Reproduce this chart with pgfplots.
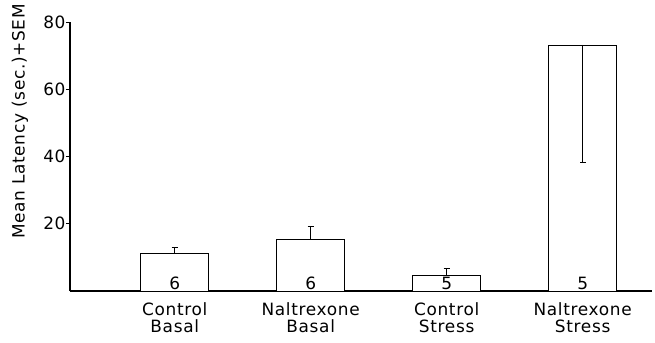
\documentclass[border=0pt]{standalone}
\usepackage{pgfplots}
\pgfplotsset{compat=1.18}
\usepackage{fontspec}
\setmainfont{DejaVu Sans}[LetterSpace=4]
\newcommand{\lblfont}{\fontsize{17}{17.5}\selectfont}
\begin{document}
\begin{tikzpicture}
\begin{axis}[
  scale only axis, width=582bp, height=269bp,
  xmin=-0.77, xmax=3.51, ymin=0, ymax=80,
  axis x line=bottom, axis y line=left,
  axis line style={-, line width=1.3pt},
  xtick={0,1,2,3},
  xticklabels={{Control\\Basal},{Naltrexone\\Basal},{Control\\Stress},{Naltrexone\\Stress}},
  xticklabel style={align=center, font=\lblfont, yshift=-4bp},
  x tick style={draw=none},
  ytick={20,40,60,80},
  tick align=outside, major tick length=4bp,
  y tick style={line width=0.8pt, black},
  yticklabel style={font=\lblfont, xshift=3bp, /pgf/number format/assume math mode=true},
  ylabel={Mean Latency (sec.)+SEM},
  ylabel style={font=\lblfont, at={(axis description cs:-0.086,0.63)}, anchor=center},
  clip=false,
]
% group means
\addplot[ybar, bar width=0.5, bar shift=0pt, fill=white, draw=black, line width=0.7pt]
  coordinates {(0,11.3) (1,15.5) (2,4.8) (3,73.2)};
% SEM drawn upward
\addplot[draw=none, mark=none, error bars/.cd, y dir=plus, y explicit,
  error bar style={draw=black, line width=0.7pt},
  error mark options={rotate=90, mark size=3bp, line width=0.7pt, draw=black}]
  coordinates {(0,11.3) +- (0,1.8) (1,15.5) +- (0,3.8) (2,4.8) +- (0,2.0)};
% SEM drawn downward inside the tall bar
\addplot[draw=none, mark=none, error bars/.cd, y dir=minus, y explicit,
  error bar style={draw=black, line width=0.7pt},
  error mark options={rotate=90, mark size=3bp, line width=0.7pt, draw=black}]
  coordinates {(3,73.2) +- (0,34.8)};
% group sizes
\foreach \x/\n in {0/6,1/6,2/5,3/5}{
  \edef\tmp{\noexpand\node[anchor=south, inner sep=0pt, font=\noexpand\lblfont] at (axis cs:\x,0.4) {\n};}
  \tmp
}
\coordinate (sw) at (rel axis cs:0,0);
\end{axis}
\pgfresetboundingbox
\path (sw) ++(-70bp,-52bp) rectangle ++(655bp,343bp);
\end{tikzpicture}
\end{document}
